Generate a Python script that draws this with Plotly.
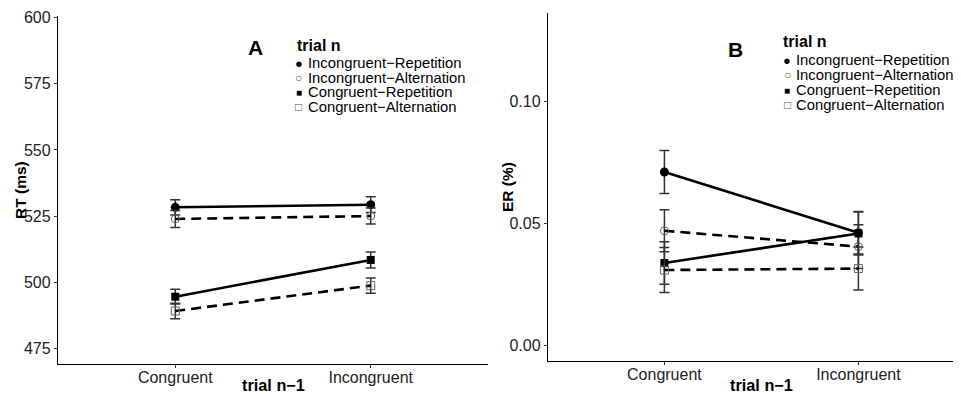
import plotly.graph_objects as go

# ---------------- data ----------------
trial_prev = ["Congruent", "Incongruent"]
series_names = ["Incongruent\u2212Repetition", "Incongruent\u2212Alternation",
                "Congruent\u2212Repetition", "Congruent\u2212Alternation"]

rt_ir = [528.3, 529.3]
rt_ia = [523.9, 525.0]
rt_cr = [494.5, 508.4]
rt_ca = [489.1, 498.7]
rt_ir_err = [2.9, 3.0]
rt_ia_err = [3.2, 3.0]
rt_cr_err = [2.8, 3.0]
rt_ca_err = [2.9, 2.9]

er_ir = [0.0712, 0.0463]
er_ia = [0.0471, 0.0406]
er_cr = [0.0339, 0.0460]
er_ca = [0.0310, 0.0316]
er_ir_err = [0.0088, 0.0087]
er_ia_err = [0.0086, 0.0090]
er_cr_err = [0.0087, 0.0088]
er_ca_err = [0.0092, 0.0088]

rt_ticks = [475, 500, 525, 550, 575, 600]
er_ticks = [0.00, 0.05, 0.10]

# ---------------- styles ----------------
W, H = 961, 394
OFF = 8  # page body margin
FONT = "Liberation Sans, Arial, sans-serif"
styles = [
    dict(symbol="circle", size=9, color="black", dash="solid", mline=0),
    dict(symbol="circle-open", size=8, color="#666666", dash="10px,6px", mline=1),
    dict(symbol="square", size=8, color="black", dash="solid", mline=0),
    dict(symbol="square-open", size=8, color="#666666", dash="10px,6px", mline=1),
]

fig = go.Figure()

def add_panel(vals, errs, xa, ya):
    for v, e, st in zip(vals, errs, styles):
        fig.add_trace(go.Scatter(
            x=trial_prev, y=v, mode="lines+markers", xaxis=xa, yaxis=ya,
            showlegend=False,
            line=dict(color="black", width=2.6, dash=st["dash"]),
            marker=dict(symbol=st["symbol"], size=st["size"], color=st["color"],
                        line=dict(width=st["mline"], color=st["color"])),
            error_y=dict(type="data", array=e, visible=True, color="#333333",
                         thickness=1.5, width=5),
        ))

add_panel([rt_ir, rt_ia, rt_cr, rt_ca], [rt_ir_err, rt_ia_err, rt_cr_err, rt_ca_err], "x", "y")
add_panel([er_ir, er_ia, er_cr, er_ca], [er_ir_err, er_ia_err, er_cr_err, er_ca_err], "x2", "y2")

def px(x):
    return (x - OFF) / W

def py(y):
    return 1 - (y - OFF) / H

axis_common = dict(showgrid=False, zeroline=False, showline=True, linecolor="black",
                   linewidth=1.4, ticks="outside", ticklen=3, tickcolor="#333333",
                   tickwidth=1, automargin=False,
                   tickfont=dict(family=FONT, size=16, color="#222222"))

fig.update_layout(
    width=W, height=H,
    margin=dict(l=0, r=0, t=0, b=0, pad=0, autoexpand=False),
    paper_bgcolor="white", plot_bgcolor="white", showlegend=False,
    xaxis=dict(domain=[px(58), px(488)], anchor="y", type="category",
               range=[-0.6, 1.6], ticklabelstandoff=-4, **axis_common),
    yaxis=dict(domain=[py(364), py(16)], anchor="x", range=[469.06, 600.64],
               tickvals=rt_ticks, **axis_common),
    xaxis2=dict(domain=[px(548), 1.0], anchor="y2", type="category",
                range=[-0.6, -0.6 + (W + OFF - 548) / 194.0], ticklabelstandoff=-4,
                **axis_common),
    yaxis2=dict(domain=[py(361), py(13)], anchor="x2", range=[-0.0063, 0.1364],
                tickvals=er_ticks, tickformat=".2f", **axis_common),
)

ann = []
def text(x, y, s, size, bold=False, xanchor="center", angle=0, color="black"):
    ann.append(dict(x=px(x), y=py(y), xref="paper", yref="paper",
                    text=(f"<b>{s}</b>" if bold else s),
                    showarrow=False, xanchor=xanchor, yanchor="middle", textangle=angle,
                    font=dict(family=FONT, size=size, color=color)))

# axis titles
text(21, 190, "RT (ms)", 15.5, bold=True, angle=-90)
text(273, 385, "trial n\u22121", 16.3, bold=True)
text(507, 187, "ER (%)", 15.5, bold=True, angle=-90)
text(761, 384.5, "trial n\u22121", 16.3, bold=True)

# panel labels
text(255, 47.5, "A", 21, bold=True)
text(735, 49, "B", 21, bold=True)

# legends
legend_syms = ["\u25CF", "\u25CB", "\u25A0", "\u25A1"]
legend_sym_colors = ["black", "#555555", "black", "#555555"]
legend_sym_sizes = [13, 12, 10, 12]

def legend(x_title, y_title, x_sym, x_txt, ys):
    text(x_title, y_title, "trial n", 16, bold=True, xanchor="left")
    for s, c, sz, name, yy in zip(legend_syms, legend_sym_colors, legend_sym_sizes, series_names, ys):
        text(x_sym, yy, s, sz, color=c)
        text(x_txt, yy, name, 14.8, xanchor="left")

legend(295, 45, 298.5, 306, [63.3, 77.8, 92.4, 107.3])
legend(780.5, 41.7, 787, 794, [60.2, 75.0, 90.0, 105.0])

fig.update_layout(annotations=ann)
fig.write_html("out.html")
